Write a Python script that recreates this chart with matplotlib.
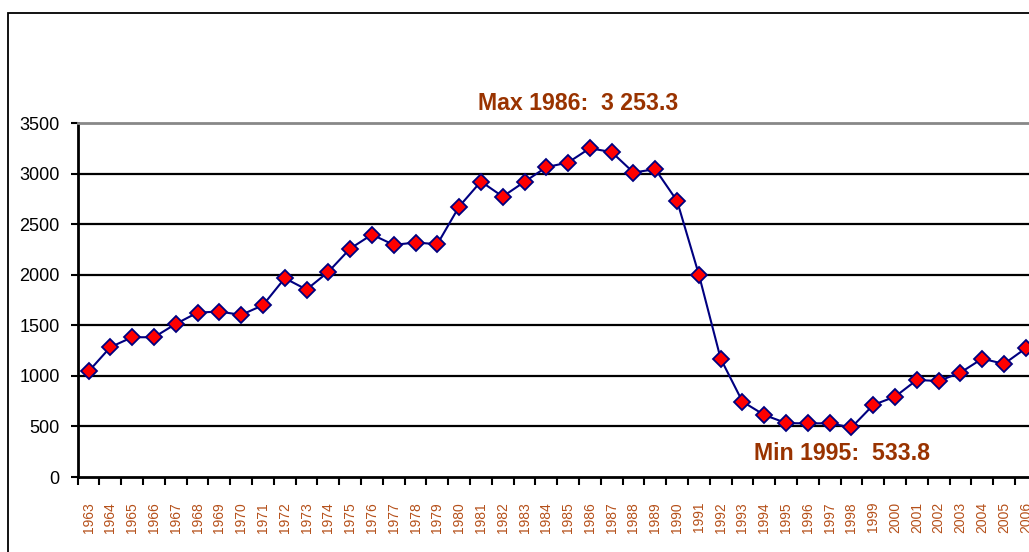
import matplotlib
matplotlib.use("Agg")
import matplotlib.pyplot as plt
from matplotlib.patches import Rectangle
import numpy as np

### Data

years = [str(y) for y in range(1963, 2007)]
values = [1045, 1285, 1383, 1383, 1515, 1627, 1637, 1604, 1700, 1967,
          1855, 2030, 2260, 2399, 2297, 2320, 2304, 2676, 2924, 2775,
          2921, 3066, 3112, 3253.3, 3215, 3013, 3046, 2732, 2003, 1171,
          746, 614, 533.8, 530, 532, 490, 713, 795, 960, 950,
          1033, 1171, 1119, 1274]
max_label = "Max 1986:  3 253.3"
min_label = "Min 1995:  533.8"
yticks = [0, 500, 1000, 1500, 2000, 2500, 3000, 3500]

brown = '#993300'
plt.rcParams['font.family'] = ['Liberation Sans', 'DejaVu Sans']

fig = plt.figure(figsize=(10.29, 5.52), dpi=100)
# axes runs past the right edge, as in the original screenshot
ax = fig.add_axes([77.7/1029, 75/552, 959/1029, 353.7/552])

x = np.arange(len(years))
ax.plot(x, values, color='#000080', lw=1.5, marker='D', ms=8,
        mfc='#ff0000', mec='#000080', mew=1.3, zorder=3, clip_on=False)

for v in yticks[1:-1]:
    ax.axhline(v, color='black', lw=1.6, zorder=1)

ax.set_ylim(0, 3500)
ax.set_xlim(-0.5, len(years) - 0.5)
ax.set_yticks(yticks)
ax.tick_params(axis='y', labelsize=13, length=5, width=1.5, direction='out', pad=8)

ax.set_xticks(x)
ax.set_xticklabels(years, rotation=90, color='#B5501A', fontsize=10)
ax.tick_params(axis='x', which='major', length=0, pad=18)
ax.set_xticks(np.arange(-0.5, len(years)), minor=True)
ax.tick_params(axis='x', which='minor', length=6, width=1.5, direction='out')

for s in ['left', 'bottom']:
    ax.spines[s].set_linewidth(2)
ax.spines['top'].set_color('#888888')
ax.spines['top'].set_linewidth(2)
ax.spines['right'].set_visible(False)

fig.text(578/1029, 1 - 103/552, max_label, color=brown, fontsize=16.7,
         fontweight='bold', ha='center', va='center')
fig.text(842/1029, 1 - 454/552, min_label, color=brown, fontsize=16.7,
         fontweight='bold', ha='center', va='center')

# outer chart border (cut off at right and bottom)
fig.patches.append(Rectangle((8/1029, -0.1), 1.2, 1.1 - 13/552,
                             transform=fig.transFigure, fill=False,
                             edgecolor='black', lw=1.3, clip_on=False))

fig.savefig("out.png", dpi=100)
